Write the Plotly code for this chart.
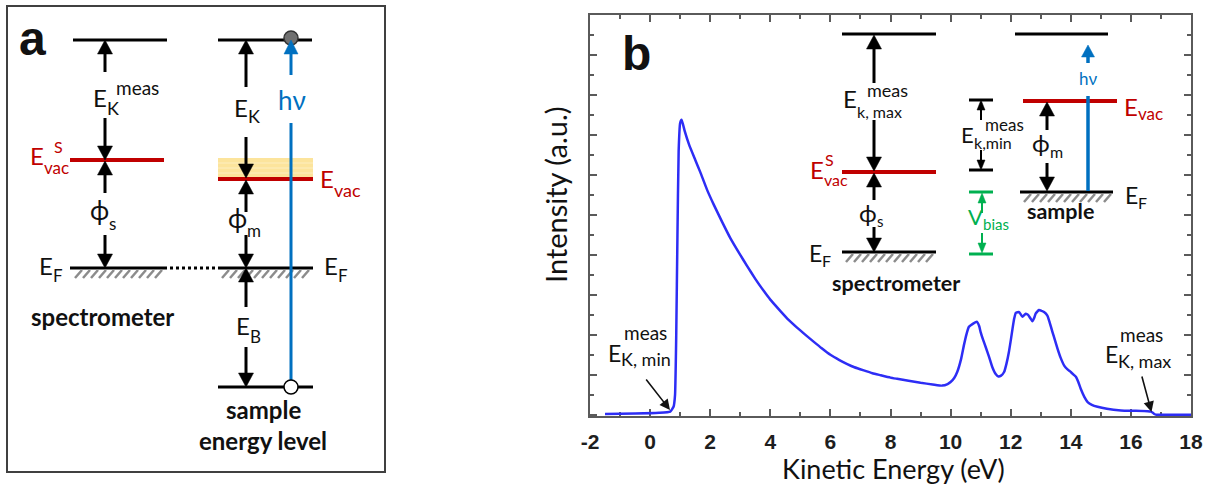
import plotly.graph_objects as go

W, H = 1222, 492

# Photoemission spectrum (kinetic energy in eV, intensity in arbitrary units)
kinetic_energy_ev = [
    -1.5, -0.5, 0.3, 0.67, 0.78, 0.83, 0.87, 0.91, 0.95, 1.0, 1.05, 1.15, 1.3,
    1.5, 1.67, 1.9, 2.11, 2.4, 2.67, 3.0, 3.22, 3.5, 3.78, 4.0, 4.33, 4.6, 4.89,
    5.2, 5.44, 5.7, 6.0, 6.3, 6.56, 6.8, 7.11, 7.4, 7.67, 8.0, 8.22, 8.6, 9.0,
    9.4, 9.72, 9.9, 10.0, 10.12, 10.22, 10.35, 10.44, 10.53, 10.61, 10.75,
    10.87, 10.95, 11.0, 11.08, 11.17, 11.28, 11.39, 11.5, 11.59, 11.68, 11.78,
    11.86, 11.94, 12.0, 12.06, 12.12, 12.17, 12.28, 12.39, 12.5, 12.58, 12.65,
    12.72, 12.78, 12.83, 12.94, 13.03, 13.11, 13.22, 13.3, 13.39, 13.48, 13.56,
    13.66, 13.78, 13.9, 14.0, 14.1, 14.17, 14.25, 14.33, 14.45, 14.56, 14.7,
    14.89, 15.2, 15.67, 16.1, 16.56, 16.67, 16.73, 16.78, 16.85, 16.89, 17.5,
    18.0,
]
intensity_au = [
    0.02, 0.03, 0.05, 0.08, 0.2, 0.5, 2.0, 4.5, 6.6, 7.3, 7.38, 7.1, 6.75,
    6.38, 6.07, 5.62, 5.27, 4.82, 4.42, 4.0, 3.73, 3.4, 3.1, 2.88, 2.6, 2.38,
    2.18, 1.98, 1.83, 1.67, 1.5, 1.37, 1.27, 1.19, 1.11, 1.04, 0.99, 0.93, 0.9,
    0.85, 0.8, 0.76, 0.73, 0.77, 0.82, 0.92, 1.07, 1.4, 1.73, 2.02, 2.2, 2.28,
    2.33, 2.22, 2.07, 1.88, 1.69, 1.45, 1.19, 1.02, 0.96, 0.98, 1.07, 1.28,
    1.57, 1.85, 2.15, 2.42, 2.55, 2.57, 2.45, 2.53, 2.5, 2.42, 2.34, 2.42,
    2.53, 2.62, 2.6, 2.57, 2.48, 2.3, 2.07, 1.85, 1.65, 1.43, 1.23, 1.13, 1.07,
    1.0, 0.95, 0.82, 0.65, 0.45, 0.32, 0.25, 0.2, 0.15, 0.11, 0.1, 0.09, 0.08,
    0.05, 0.02, 0.0, 0.0, 0.0, 0.0,
]
x_tick_values = [-2, 0, 2, 4, 6, 8, 10, 12, 14, 16, 18]
x_tick_labels = ["-2", "0", "2", "4", "6", "8", "10", "12", "14", "16", "18"]

BODY = "Lato, 'Open Sans', sans-serif"
ARIAL = "'Liberation Sans', Arial, sans-serif"
RED = "#c00000"
BLUE = "#0070c0"
GREEN = "#00b050"
HATCH = "#8c8c8c"
AXIS = "#5a5a5a"
INK = "#111111"

# vertical font metrics (ascent, descent) used to place text by its baseline
METRICS = {BODY: (0.987, 0.213), ARIAL: (0.905, 0.212)}

shapes = []
annotations = []


def X(px):
    return px / W


def Y(py):
    return 1 - py / H


def seg(x0, y0, x1, y1, color="black", w=3, dash=None):
    shapes.append(dict(type="line", xref="paper", yref="paper",
                       x0=X(x0), y0=Y(y0), x1=X(x1), y1=Y(y1),
                       line=dict(color=color, width=w, dash=dash)))


def level(x0, x1, y, color="black", w=3):
    seg(x0, y, x1, y, color, w)


def hatch(x0, x1, y, depth=9, step=8, slant=7):
    parts = []
    x = x0
    while x + slant <= x1:
        parts.append(f"M{X(x)},{Y(y + depth)} L{X(x + slant)},{Y(y + 1)}")
        x += step
    shapes.append(dict(type="path", xref="paper", yref="paper",
                       path=" ".join(parts), line=dict(color=HATCH, width=2.5)))


def arrow(x, y0, y1, color="black", w=3, hl=14, hw=15):
    s = 1 if y1 > y0 else -1
    base = y1 - s * hl
    seg(x, y0, x, base + s * 2, color, w)
    shapes.append(dict(type="path", xref="paper", yref="paper",
                       path=f"M{X(x)},{Y(y1)} L{X(x - hw / 2)},{Y(base)} "
                            f"L{X(x + hw / 2)},{Y(base)} Z",
                       fillcolor=color, line=dict(color=color, width=0.5)))


def circle(x, y, r, fill, edge="black", w=1.5):
    shapes.append(dict(type="circle", xref="paper", yref="paper",
                       x0=X(x - r), x1=X(x + r), y0=Y(y + r), y1=Y(y - r),
                       fillcolor=fill, line=dict(color=edge, width=w)))


def rect(x0, y0, x1, y1, fill=None, edge=None, w=0):
    shapes.append(dict(type="rect", xref="paper", yref="paper",
                       x0=X(x0), x1=X(x1), y0=Y(y1), y1=Y(y0),
                       fillcolor=fill if fill else "rgba(0,0,0,0)",
                       line=dict(color=edge if edge else "rgba(0,0,0,0)", width=w)))


def text(x, base, s, size, color=INK, anchor="center", bold=False,
         family=BODY, angle=0, center=None):
    """Place a one-line text so that its baseline sits at `base` (pixels)."""
    asc, desc = METRICS[family]
    yc = center if center is not None else base - (asc - desc) / 2 * size
    annotations.append(dict(xref="paper", yref="paper", x=X(x), y=Y(yc), text=s,
                            showarrow=False, xanchor=anchor, yanchor="middle",
                            textangle=angle, borderpad=0, borderwidth=0,
                            font=dict(family=family, size=size, color=color,
                                      weight="bold" if bold else "normal")))


def symbol(right, base, main, size, color=INK, sub=None, sub_base=None,
           sub_size=18, sup=None, sup_base=None, sup_size=18, sup_x=None):
    """Main symbol ending at `right`, followed by its indices."""
    text(right, base, main, size, color, anchor="right")
    if sup:
        text(sup_x if sup_x is not None else right, sup_base, sup, sup_size,
             color, anchor="left")
    if sub:
        text(right, sub_base, sub, sub_size, color, anchor="left")


# ---------------- panel a: energy level diagram ----------------
rect(7, 6, 385, 472, edge="#404040", w=2)
text(32, 55, "a", 48, bold=True, family=ARIAL)

level(73, 167, 40)
level(218, 312, 40)
level(70, 164, 160, RED, 4)
rect(218, 158, 313, 178, fill="#fce49c")
for yy in (163, 168, 173):
    level(218, 313, yy, "#fdeec0", 1)
level(218, 313, 179, RED, 4)
level(70, 164, 268)
hatch(75, 163, 269)
seg(164, 268, 218, 268, "black", 3, "dot")
level(218, 313, 268)
hatch(222, 312, 269)
level(218, 313, 387)

# photon excitation
circle(291, 38, 7, "#707070", "#333333", 1.5)
seg(291, 387, 291, 123, BLUE, 3)
arrow(291, 75, 40, BLUE, 3, 14, 14)
circle(291, 387, 7, "white", "black", 1.5)
text(292, 110, "hν", 26, BLUE)

# spectrometer column
arrow(105, 72, 40)
arrow(105, 118, 160)
arrow(105, 193, 161)
arrow(105, 235, 268)
symbol(107, 107, "E", 24, sup="meas", sup_base=95, sup_size=19, sup_x=116,
       sub="K", sub_base=115, sub_size=18)
symbol(44, 165, "E", 24, RED, sup="S", sup_base=153, sup_size=16, sup_x=54,
       sub="vac", sub_base=174, sub_size=17)
symbol(109, 220, "ϕ", 26, sub="s", sub_base=230, sub_size=17)
symbol(53, 275, "E", 24, sub="F", sub_base=282, sub_size=17)
text(31, 325.5, "spectrometer", 24, anchor="left", bold=True)

# sample column
arrow(246, 87, 40)
arrow(246, 137, 178)
arrow(246, 212, 180)
arrow(246, 235, 268)
arrow(246, 307, 268)
arrow(246, 347, 387)
symbol(248, 117, "E", 24, sub="K", sub_base=123, sub_size=18)
symbol(333.5, 188, "E", 24, RED, sub="vac", sub_base=197, sub_size=18)
symbol(246.5, 228, "ϕ", 26, sub="m", sub_base=237, sub_size=17)
symbol(337.5, 275, "E", 24, sub="F", sub_base=282, sub_size=17)
symbol(249.5, 335, "E", 24, sub="B", sub_base=343, sub_size=17)
text(226, 419, "sample", 24, anchor="left", bold=True)
text(199, 450, "energy level", 24, anchor="left", bold=True)

# ---------------- panel b: spectrum with inset diagram ----------------
text(636, 70, "b", 48, bold=True, family=ARIAL)

level(842, 936, 34)
level(842, 936, 172, RED, 4)
level(842, 936, 252)
hatch(846, 935, 253)
arrow(874, 83, 35)
arrow(874, 120, 171)
arrow(874, 200, 173)
arrow(874, 227, 252)
symbol(856.5, 108, "E", 24, sup="meas", sup_base=97, sup_size=18, sup_x=867,
       sub="k, max", sub_base=117.5, sub_size=16)
symbol(823.5, 179, "E", 24, RED, sup="S", sup_base=166, sup_size=16, sup_x=825,
       sub="vac", sub_base=186, sub_size=16)
symbol(877, 222, "ϕ", 24, sub="s", sub_base=227, sub_size=15)
symbol(821.5, 262, "E", 23, sub="F", sub_base=267, sub_size=16)
text(832, 291, "spectrometer", 21.5, anchor="left", bold=True)

level(969, 993, 100)
level(969, 993, 170)
arrow(981, 120, 100, "black", 2, 10, 8)
arrow(981, 150, 170, "black", 2, 10, 8)
symbol(974, 143, "E", 22, sup="meas", sup_base=131, sup_size=17, sup_x=985,
       sub="k,min", sub_base=149, sub_size=16)

level(969, 993, 192, GREEN)
level(969, 993, 254, GREEN)
arrow(982, 213, 193, GREEN, 2, 10, 8)
arrow(982, 233, 253, GREEN, 2, 10, 8)
symbol(983, 225, "V", 22, GREEN, sub="bias", sub_base=230, sub_size=15)

level(1015, 1108, 34)
level(1023, 1117, 101, RED, 4)
level(1020, 1113, 192)
hatch(1024, 1112, 193)
arrow(1047, 130, 102)
arrow(1047, 163, 191)
symbol(1049.5, 152, "ϕ", 24, sub="m", sub_base=158, sub_size=16)
symbol(1137.5, 116, "E", 24, RED, sub="vac", sub_base=120, sub_size=17)
symbol(1138, 204, "E", 23, sub="F", sub_base=209, sub_size=16)
text(1027, 219, "sample", 21.5, anchor="left", bold=True)
seg(1088, 191, 1088, 96, BLUE, 3.5)
arrow(1088, 63, 45, BLUE, 3.5, 12, 13)
text(1088, 85, "hν", 17, BLUE)

# cut-off labels on the spectrum
symbol(621, 362, "E", 23, sup="meas", sup_base=340, sup_size=19, sup_x=624,
       sub="K, min", sub_base=366, sub_size=18)
symbol(1118, 363, "E", 23, sup="meas", sup_base=342, sup_size=19, sup_x=1120,
       sub="K, max", sub_base=368, sub_size=18)
for tip, tail in (((670, 410), (645, 378)), ((1151.5, 412), (1141.5, 375))):
    annotations.append(dict(xref="paper", yref="paper", x=X(tip[0]), y=Y(tip[1]),
                            ax=tail[0] - tip[0], ay=tail[1] - tip[1], text="",
                            showarrow=True, arrowhead=2, arrowsize=1.3,
                            arrowwidth=1.6, arrowcolor=INK))

# axis titles
text(893, 479, "Kinetic Energy (eV)", 27)
text(555, 0, "Intensity (a.u.)", 29, angle=-90, center=195)

fig = go.Figure()
fig.add_trace(go.Scatter(x=kinetic_energy_ev, y=intensity_au, mode="lines",
                         line=dict(color="#2d2df5", width=2.5, shape="spline",
                                   smoothing=0.4),
                         hoverinfo="skip"))

minor_x = [v + 1 for v in x_tick_values[:-1]]
fig.update_layout(
    width=W, height=H, margin=dict(l=0, r=0, t=0, b=0),
    paper_bgcolor="white", plot_bgcolor="white", showlegend=False,
    shapes=shapes, annotations=annotations,
    xaxis=dict(domain=[X(590), X(1191)], range=[-2, 18], showgrid=False,
               zeroline=False, showline=True, linecolor=AXIS, linewidth=2,
               mirror="allticks", ticks="inside", ticklen=7, tickwidth=1.5,
               tickcolor=AXIS, tickmode="array", tickvals=x_tick_values,
               ticktext=x_tick_labels, ticklabelstandoff=6, automargin=False,
               tickfont=dict(family=ARIAL, size=21, color="#1e1e1e", weight="bold"),
               minor=dict(tickvals=minor_x, ticks="inside", ticklen=4,
                          tickwidth=1.5, tickcolor=AXIS),
               layer="below traces"),
    yaxis=dict(domain=[Y(416), Y(15)], range=[-0.03, 10], showgrid=False,
               zeroline=False, showline=True, linecolor=AXIS, linewidth=2,
               mirror="allticks", ticks="inside", ticklen=7, tickwidth=1.5,
               tickcolor=AXIS, tickmode="linear", tick0=0, dtick=1,
               showticklabels=False, automargin=False,
               minor=dict(dtick=0.5, ticks="inside", ticklen=4, tickwidth=1.5,
                          tickcolor=AXIS),
               layer="below traces"),
)

fig.write_html("out.html")
